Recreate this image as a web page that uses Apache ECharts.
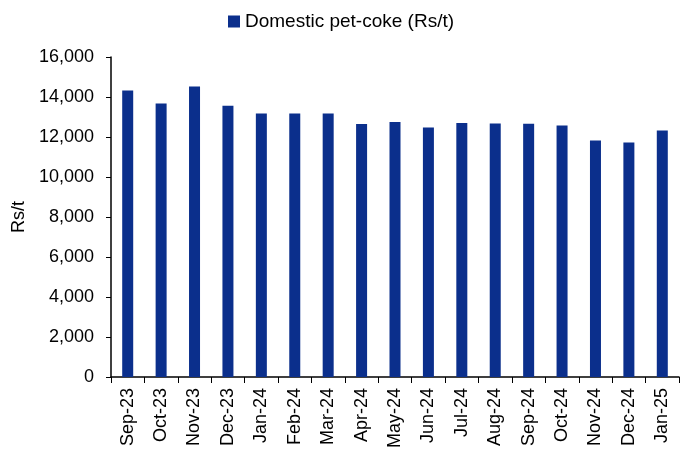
<!DOCTYPE html>
<html>
<head>
<meta charset="utf-8">
<script src="https://cdn.jsdelivr.net/npm/echarts@6/dist/echarts.min.js"></script>
<style>
  html, body { margin: 0; padding: 0; background: #fff; }
  #chart { width: 682px; height: 455px; }
</style>
</head>
<body>
<div id="chart"></div>
<script>
const months = ['Sep-23', 'Oct-23', 'Nov-23', 'Dec-23', 'Jan-24', 'Feb-24', 'Mar-24', 'Apr-24', 'May-24',
  'Jun-24', 'Jul-24', 'Aug-24', 'Sep-24', 'Oct-24', 'Nov-24', 'Dec-24', 'Jan-25']
const petcoke = [14330, 13680, 14520, 13560, 13180, 13180, 13180, 12650, 12750,
  12470, 12700, 12680, 12660, 12580, 11830, 11730, 12330]
const seriesName = 'Domestic pet-coke (Rs/t)'

const fontFamily = '"Liberation Sans", Arial, sans-serif'
const chart = echarts.init(document.getElementById('chart'), null, { renderer: 'canvas' })

chart.setOption({
  animation: false,
  textStyle: { fontFamily: fontFamily, color: '#000' },
  legend: {
    top: 7,
    left: 'center',
    itemWidth: 12,
    itemHeight: 12,
    itemGap: 4,
    textStyle: { fontSize: 19, color: '#000', fontFamily: fontFamily },
    data: [{ name: seriesName, icon: 'rect' }]
  },
  grid: { left: 111, right: 3, top: 57, bottom: 78, containLabel: false },
  xAxis: {
    type: 'category',
    data: months,
    axisLine: { lineStyle: { color: '#000', width: 1.5 } },
    axisTick: { show: true, length: 6, lineStyle: { color: '#000' } },
    axisLabel: { rotate: 90, fontSize: 18, color: '#000', margin: 11, fontFamily: fontFamily }
  },
  yAxis: {
    type: 'value',
    min: 0,
    max: 16000,
    interval: 2000,
    name: 'Rs/t',
    nameLocation: 'middle',
    nameGap: 83,
    nameTextStyle: { fontSize: 18, color: '#000', fontFamily: fontFamily },
    axisLine: { show: true, lineStyle: { color: '#000', width: 1.5 } },
    axisTick: { show: true, length: 5, lineStyle: { color: '#000' } },
    splitLine: { show: false },
    axisLabel: {
      fontSize: 18,
      color: '#000',
      margin: 17,
      fontFamily: fontFamily,
      formatter: v => v.toLocaleString('en-US')
    }
  },
  series: [{
    name: seriesName,
    type: 'bar',
    data: petcoke,
    barWidth: 11,
    itemStyle: { color: '#0b2f8c' }
  }]
})
</script>
</body>
</html>
